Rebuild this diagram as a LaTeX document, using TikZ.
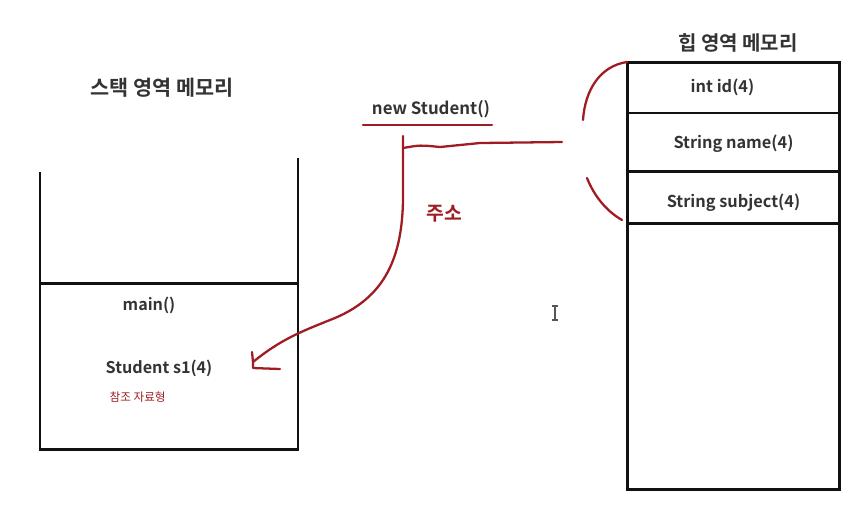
\documentclass[tikz,border=0pt]{standalone}
\usepackage{fontspec}
\setmainfont{Noto Sans CJK KR}[BoldFont={* Bold}]
\usetikzlibrary{arrows.meta,positioning}
\definecolor{penRed}{HTML}{9E1C22}
\definecolor{inkBlack}{HTML}{111111}
\definecolor{textGray}{HTML}{333333}
\definecolor{cursorGray}{HTML}{555555}

\begin{document}
\begin{tikzpicture}[x=0.02cm, y=-0.02cm,
        wall/.style={line width=1.7pt, draw=inkBlack},
        cell/.style={rectangle, line width=1.7pt, draw=inkBlack, minimum width=4.26cm, inner sep=0pt, outer sep=0pt},
        celltext/.style={font=\bfseries\fontsize{9.3}{11}\selectfont, text=textGray},
        title/.style={font=\bfseries\fontsize{11.8}{14}\selectfont, text=textGray},
        label/.style={font=\bfseries\fontsize{9.2}{11}\selectfont, text=textGray},
        pen/.style={line width=1.3pt, draw=penRed, line cap=round, line join=round}
      ]
        \useasboundingbox (0,0) rectangle (855,512);
        % stack area
        \node[title] (stacktitle) at (162,88) {스택 영역 메모리};
        \draw[wall] (40,172) -- (40,449) -- (298,449) -- (298,158);
        \draw[wall] (40,283) -- (298,283);
        \node[label] (mainf) at (149,305) {main()};
        \node[label] (s1) at (159,368) {Student s1(4)};
        \node[font=\fontsize{6.6}{8}\selectfont, text=penRed, below=0.06cm of s1.south west, anchor=north west, xshift=0.08cm] (reftype) {참조 자료형};
        % heap area
        \node[title, font=\bfseries\fontsize{11.4}{14}\selectfont] (heaptitle) at (738,43) {힙 영역 메모리};
        \node[cell, minimum height=1.02cm, anchor=north west] (id) at (627,62) {};
        \node[cell, minimum height=1.18cm, anchor=north] (name) at (id.south) {};
        \node[cell, minimum height=1.04cm, anchor=north] (subject) at (name.south) {};
        \node[cell, minimum height=5.32cm, anchor=north] (rest) at (subject.south) {};
        \node[celltext] (idtext) at ([xshift=-0.22cm]id.center) {int id(4)};
        \node[celltext] (nametext) at ([yshift=-0.02cm]name.center) {String name(4)};
        \node[celltext] (subjecttext) at ([yshift=-0.1cm]subject.center) {String subject(4)};
        % new Student()
        \node[label, font=\bfseries\fontsize{9.6}{11}\selectfont] (newobj) at (431,109) {new Student()};
        \draw[pen] (363,125) -- (492,125);
        \coordinate (bend) at (403,148);
        \coordinate (wire) at (562,142);
        \coordinate (tip) at (253,362);
        \draw[pen] (wire) -- (480,143) -- (440,147) .. controls (420,145) .. (bend);
        \draw[pen] (403,136) -- (bend) -- (403,200) .. controls (402,262) and (382,300) .. (330,320)
              .. controls (300,332) and (280,340) .. (tip);
        \draw[pen] (252,352) -- (tip) -- (253,368) -- (280,369);
        \node[font=\bfseries\fontsize{11}{13}\selectfont, text=penRed] (addr) at (444,214) {주소};
        % brace
        \draw[pen] (id.north west) .. controls (600,66) and (585,90) .. (583,120);
        \draw[pen] (587,178) .. controls (595,198) and (608,212) .. (622,220);
        % cursor
        \draw[cursorGray, line width=0.8pt] (555,306) -- (555,320) (552,306) -- (558,306) (552,320) -- (558,320);
      \end{tikzpicture}
\end{document}
